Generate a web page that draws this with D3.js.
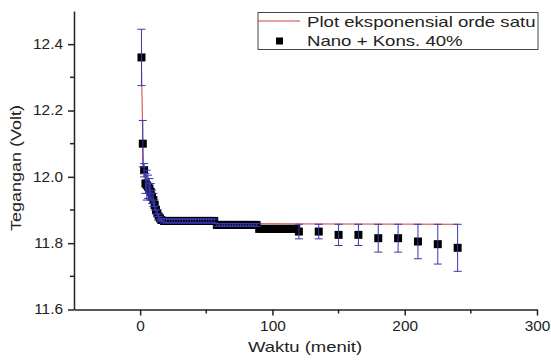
<!DOCTYPE html>
<html>
<head>
<meta charset="utf-8">
<script src="https://cdn.jsdelivr.net/npm/d3@7"></script>
<style>
  body { margin: 0; background: #fff; }
  text { font-family: "Liberation Sans", Arial, sans-serif; fill: #222; }
</style>
</head>
<body>
<div id="chart"></div>
<script>
// data
let waktu = [1,2,3,4,5,6,7,8,9,10,11,12,13,14,15,16,
  18,20,22,24,26,28,30,32,34,36,38,40,42,44,46,48,50,52,54,56,
  58,60,62,64,66,68,70,72,74,76,78,80,82,84,86,88,
  90,92,94,96,98,100,102,104,106,108,110,112,114,116,118,
  120,135,150,165,180,195,210,225,240];
let tegangan = [12.36,12.10,12.02,11.98,11.975,11.97,11.965,11.955,11.94,11.93,11.915,11.90,11.89,11.88,11.875,11.87,
  11.867,11.867,11.867,11.867,11.867,11.867,11.867,11.867,11.867,11.867,11.867,11.867,11.867,11.867,11.867,11.867,11.867,11.867,11.867,11.867,
  11.855,11.855,11.855,11.855,11.855,11.855,11.855,11.855,11.855,11.855,11.855,11.855,11.855,11.855,11.855,11.855,
  11.843,11.843,11.843,11.843,11.843,11.843,11.843,11.843,11.843,11.843,11.843,11.843,11.843,11.843,11.843,
  11.835,11.835,11.825,11.825,11.815,11.815,11.805,11.797,11.786];
let galat = [0.085,0.07,0.02,0.03,0.045,0.035,0.03,0.025,0.02,0.02,0.015,0.012,0.01,0.008,0.006,0.005,
  0.006,0.006,0.006,0.006,0.006,0.006,0.006,0.006,0.006,0.006,0.006,0.006,0.006,0.006,0.006,0.006,0.006,0.006,0.006,0.006,
  0.004,0.004,0.004,0.004,0.004,0.004,0.004,0.004,0.004,0.004,0.004,0.004,0.004,0.004,0.004,0.004,
  0,0,0,0,0,0,0,0,0,0,0,0,0,0,0,
  0.022,0.022,0.032,0.032,0.042,0.042,0.052,0.06,0.071];

// exponential fit curve
let fitT = [1,1.5,2,2.5,3,4,5,6,8,10,12,15,20,240];
let fitV = [12.36,12.22,12.11,12.04,12.0,11.975,11.965,11.955,11.935,11.915,11.895,11.875,11.86,11.857];

let xMajor = [0,100,200,300];
let xMinor = [50,150,250];
let yMajor = [11.6,11.8,12.0,12.2,12.4];
let yMinor = [11.7,11.9,12.1,12.3];

let w = 551, h = 360;
let svg = d3.select("#chart").append("svg")
    .attr("width", w)
    .attr("height", h)
    .style("background-color", "white");

let xScale = d3.scaleLinear().domain([-50,300]).range([74,537]);
let yScale = d3.scaleLinear().domain([11.6,12.5]).range([309.5,11]);

// stretch text horizontally (the reference picture is a bit wide)
function stretch(sel, k){
  sel.each(function(){
    let L = this.getComputedTextLength();
    d3.select(this).attr("textLength", L*k).attr("lengthAdjust", "spacingAndGlyphs");
  });
}

// axes
let xAxisGroup = svg.append("g").attr("transform", "translate(0,"+yScale(11.6)+")");
xAxisGroup.call(d3.axisBottom(xScale).tickValues(xMajor).tickFormat(d3.format("d")).tickSize(6).tickPadding(6).tickSizeOuter(0));
xAxisGroup.selectAll(".minor").data(xMinor).enter().append("line")
    .attr("x1", d=>xScale(d)).attr("x2", d=>xScale(d))
    .attr("y1", 0).attr("y2", 4)
    .attr("stroke", "#222").attr("stroke-width", 1.5);

let yAxisGroup = svg.append("g").attr("transform", "translate("+xScale(-50)+",0)");
yAxisGroup.call(d3.axisLeft(yScale).tickValues(yMajor).tickFormat(d3.format(".1f")).tickSize(6).tickPadding(5).tickSizeOuter(0));
yAxisGroup.selectAll(".minor").data(yMinor).enter().append("line")
    .attr("y1", d=>yScale(d)).attr("y2", d=>yScale(d))
    .attr("x1", 0).attr("x2", -4)
    .attr("stroke", "#222").attr("stroke-width", 1.5);

svg.selectAll(".domain").attr("stroke", "#222").attr("stroke-width", 1.5);
svg.selectAll(".tick line").attr("stroke", "#222").attr("stroke-width", 1.5);
svg.selectAll(".tick text")
    .attr("font-family", "Liberation Sans, Arial, sans-serif")
    .attr("font-size", 14)
    .attr("fill", "#333")
    .call(stretch, 1.1);

// axis titles
svg.append("text")
    .attr("x", 305).attr("y", 352)
    .attr("text-anchor", "middle")
    .attr("font-size", 15)
    .attr("fill", "#333")
    .text("Waktu (menit)")
    .call(stretch, 1.23);

svg.append("text")
    .attr("transform", "translate(21,168) rotate(-90)")
    .attr("text-anchor", "middle")
    .attr("font-size", 15)
    .attr("fill", "#333")
    .text("Tegangan (Volt)")
    .call(stretch, 1.2);

// data
let data = waktu.map((t,i)=>({t: t, v: tegangan[i], e: galat[i]}));

let graphGroup = svg.append("g");

// fit line (under the points)
let fitData = fitT.map((t,i)=>({t: t, v: fitV[i]}));
let line = d3.line().x(d=>xScale(d.t)).y(d=>yScale(d.v)).curve(d3.curveMonotoneX);
graphGroup.append("path")
    .datum(fitData)
    .attr("d", line)
    .attr("fill", "none")
    .attr("stroke", "#d04040")
    .attr("stroke-width", 1);

// squares
graphGroup.selectAll(".datapoint").data(data).enter().append("rect")
    .attr("class", "datapoint")
    .attr("x", d=>xScale(d.t)-4)
    .attr("y", d=>yScale(d.v)-4)
    .attr("width", 8).attr("height", 8)
    .attr("fill", "#000");

// error bars
let bars = graphGroup.selectAll(".errbar").data(data.filter(d=>d.e>0)).enter().append("g")
    .attr("class", "errbar")
    .attr("stroke", "#3838b0")
    .attr("stroke-width", 1);
bars.append("line")
    .attr("x1", d=>xScale(d.t)).attr("x2", d=>xScale(d.t))
    .attr("y1", d=>yScale(d.v+d.e)).attr("y2", d=>yScale(d.v-d.e));
bars.append("line")
    .attr("x1", d=>xScale(d.t)-4).attr("x2", d=>xScale(d.t)+4)
    .attr("y1", d=>yScale(d.v+d.e)).attr("y2", d=>yScale(d.v+d.e));
bars.append("line")
    .attr("x1", d=>xScale(d.t)-4).attr("x2", d=>xScale(d.t)+4)
    .attr("y1", d=>yScale(d.v-d.e)).attr("y2", d=>yScale(d.v-d.e));

// legend
let legend = svg.append("g");
legend.append("rect")
    .attr("x", 258).attr("y", 12.5)
    .attr("width", 280).attr("height", 37)
    .attr("fill", "white")
    .attr("stroke", "#444").attr("stroke-width", 1);
legend.append("line")
    .attr("x1", 258).attr("x2", 300)
    .attr("y1", 21).attr("y2", 21)
    .attr("stroke", "#d04040").attr("stroke-width", 1);
legend.append("rect")
    .attr("x", 276).attr("y", 37.5)
    .attr("width", 7).attr("height", 7)
    .attr("fill", "#000");
legend.append("text")
    .attr("x", 307).attr("y", 27)
    .attr("font-size", 15)
    .text("Plot eksponensial orde satu")
    .call(stretch, 1.24);
legend.append("text")
    .attr("x", 307).attr("y", 46)
    .attr("font-size", 15)
    .text("Nano + Kons. 40%")
    .call(stretch, 1.24);
</script>
</body>
</html>
